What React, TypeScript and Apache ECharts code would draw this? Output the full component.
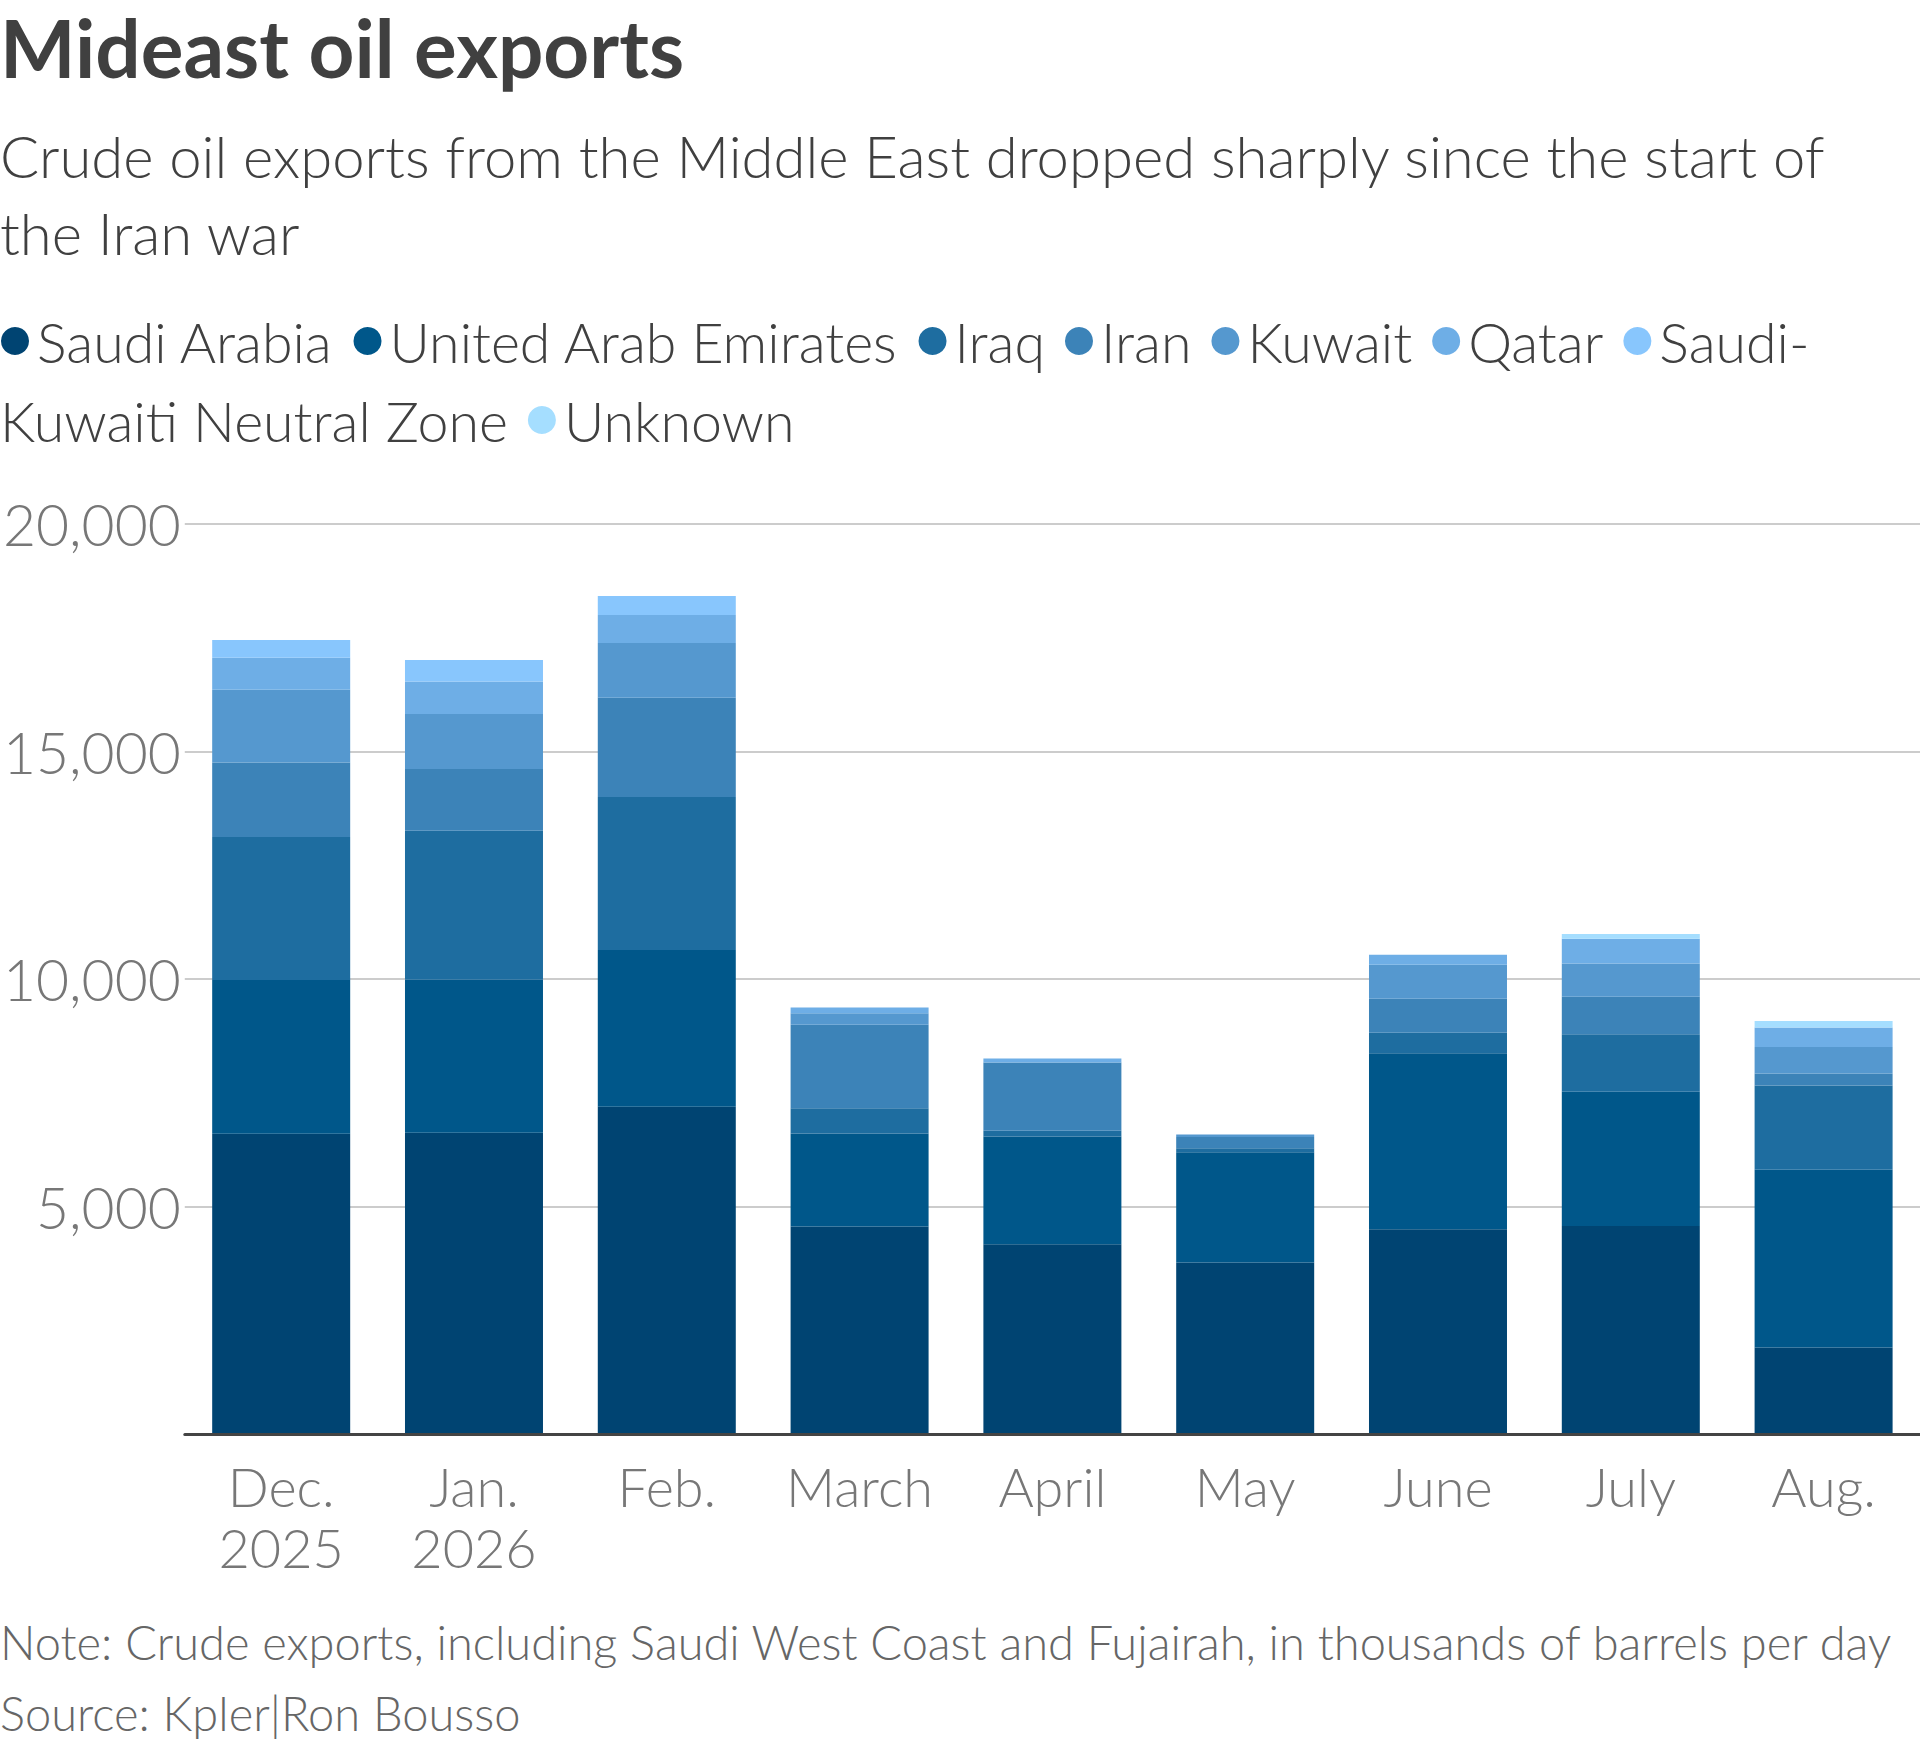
import React, { useEffect, useRef } from "react";
import * as echarts from "echarts";

const categories = ["Dec.\n2025", "Jan.\n2026", "Feb.", "March", "April", "May", "June", "July", "Aug."];
const seriesNames = [
  "Saudi Arabia",
  "United Arab Emirates",
  "Iraq",
  "Iran",
  "Kuwait",
  "Qatar",
  "Saudi-Kuwaiti Neutral Zone",
  "Unknown",
];
const saudiArabia = [6600, 6620, 7190, 4560, 4170, 3770, 4500, 4570, 1900];
const uae = [3380, 3365, 3450, 2045, 2370, 2420, 3870, 2950, 3910];
const iraq = [3140, 3275, 3360, 555, 125, 90, 450, 1265, 1850];
const iran = [1640, 1355, 2180, 1835, 1500, 250, 745, 825, 265];
const kuwait = [1595, 1210, 1205, 250, 0, 50, 750, 730, 580];
const qatar = [705, 715, 615, 130, 90, 0, 220, 545, 430];
const neutralZone = [390, 470, 415, 0, 0, 0, 0, 0, 0];
const unknown = [0, 0, 0, 0, 0, 0, 0, 105, 140];
const seriesValues = [saudiArabia, uae, iraq, iran, kuwait, qatar, neutralZone, unknown];
const colors = ["#004472", "#00578a", "#1e6da0", "#3c83b8", "#5598cf", "#6eaee6", "#88c6fd", "#a5deff"];

const yMin = 0;
const yMax = 20000;
const yInterval = 5000;

const titleText = "Mideast oil exports";
const subtitleText = "Crude oil exports from the Middle East dropped sharply since the start of\nthe Iran war";
const noteText = "Note: Crude exports, including Saudi West Coast and Fujairah, in thousands of barrels per day";
const sourceText = "Source: Kpler|Ron Bousso";

const FONT = "Lato";
const W = 1920;
const H = 1747;

function measure(text: string, font: string): number {
  const c = document.createElement("canvas").getContext("2d");
  if (!c) return text.length * 25;
  c.font = font;
  return c.measureText(text).width;
}

function buildLegend(): any[] {
  const fontSize = 55.5;
  const font = `300 ${fontSize}px ${FONT}`;
  const r = 14;
  const firstDotX = 15;
  const dotToText = 22;
  const textToDot = 34;
  const maxW = 1900;
  const lineCenters = [341, 420];
  const els: any[] = [];
  let line = 0;
  let cursor = 0;
  let first = true;
  const addText = (t: string, tx: number, ty: number) => {
    els.push({
      type: "text",
      x: tx,
      y: ty,
      silent: true,
      style: {
        text: t,
        fill: "#404040",
        font,
        align: "left",
        textAlign: "left",
        verticalAlign: "middle",
        textVerticalAlign: "middle",
      },
    });
  };
  const addDot = (cx: number, cy: number, color: string) => {
    els.push({ type: "circle", silent: true, shape: { cx, cy, r }, style: { fill: color } });
  };
  seriesNames.forEach((name, i) => {
    let dotX = first ? firstDotX : cursor + textToDot;
    const wFull = measure(name, font);
    if (dotX + dotToText + wFull > maxW) {
      const hy = name.indexOf("-");
      if (hy > 0) {
        const p1 = name.slice(0, hy + 1);
        const p2 = name.slice(hy + 1);
        const w1 = measure(p1, font);
        if (dotX + dotToText + w1 <= maxW) {
          addDot(dotX, lineCenters[line], colors[i]);
          addText(p1, dotX + dotToText, lineCenters[line]);
          line += 1;
          addText(p2, 0, lineCenters[line]);
          cursor = measure(p2, font);
          first = false;
          return;
        }
      }
      line += 1;
      dotX = firstDotX;
    }
    addDot(dotX, lineCenters[line], colors[i]);
    addText(name, dotX + dotToText, lineCenters[line]);
    cursor = dotX + dotToText + wFull;
    first = false;
  });
  return els;
}

export default function App() {
  const ref = useRef<HTMLDivElement>(null);
  useEffect(() => {
    document.body.style.margin = "0";
    if (!ref.current) return;
    const chart = echarts.init(ref.current, undefined, { renderer: "svg", width: W, height: H });
    const series = seriesNames.map((name, i) => ({
      name,
      type: "bar",
      stack: "total",
      data: seriesValues[i],
      barWidth: 138,
      itemStyle: { color: colors[i] },
      emphasis: { disabled: true },
    }));
    chart.setOption({
      animation: false,
      backgroundColor: "#ffffff",
      textStyle: { fontFamily: FONT },
      grid: { left: 182, right: -8, top: 524, bottom: H - 1434, containLabel: false },
      xAxis: {
        type: "category",
        data: categories,
        axisTick: { show: false },
        axisLine: { show: true, lineStyle: { color: "#444444", width: 3 } },
        axisLabel: {
          interval: 0,
          color: "#777777",
          fontSize: 54,
          fontWeight: 300,
          fontFamily: FONT,
          lineHeight: 61,
          margin: 22,
        },
        z: 10,
      },
      yAxis: {
        type: "value",
        min: yMin,
        max: yMax,
        interval: yInterval,
        axisLine: { show: false },
        axisTick: { show: false },
        splitLine: { show: true, lineStyle: { color: "#cccccc", width: 2 } },
        axisLabel: {
          color: "#777777",
          fontSize: 57,
          fontWeight: 300,
          fontFamily: FONT,
          margin: 4,
          formatter: (v: number) => (v === 0 ? "" : v.toLocaleString("en-US")),
        },
      },
      series,
      graphic: [
        {
          type: "text",
          x: 0,
          y: 47,
          silent: true,
          style: {
            text: titleText,
            fill: "#404040",
            font: `bold 80px ${FONT}`,
            align: "left",
            textAlign: "left",
            verticalAlign: "middle",
            textVerticalAlign: "middle",
          },
        },
        {
          type: "text",
          x: 0,
          y: 117,
          silent: true,
          style: {
            text: subtitleText,
            fill: "#404040",
            font: `300 58px ${FONT}`,
            lineHeight: 77,
            align: "left",
            textAlign: "left",
            verticalAlign: "top",
            textVerticalAlign: "top",
          },
        },
        ...buildLegend(),
        {
          type: "text",
          x: 0,
          y: 1606,
          silent: true,
          style: {
            text: noteText + "\n" + sourceText,
            fill: "#666666",
            font: `300 47px ${FONT}`,
            lineHeight: 71,
            align: "left",
            textAlign: "left",
            verticalAlign: "top",
            textVerticalAlign: "top",
          },
        },
      ],
    });
    return () => {
      chart.dispose();
    };
  }, []);
  return <div ref={ref} style={{ width: W, height: H }} />;
}
